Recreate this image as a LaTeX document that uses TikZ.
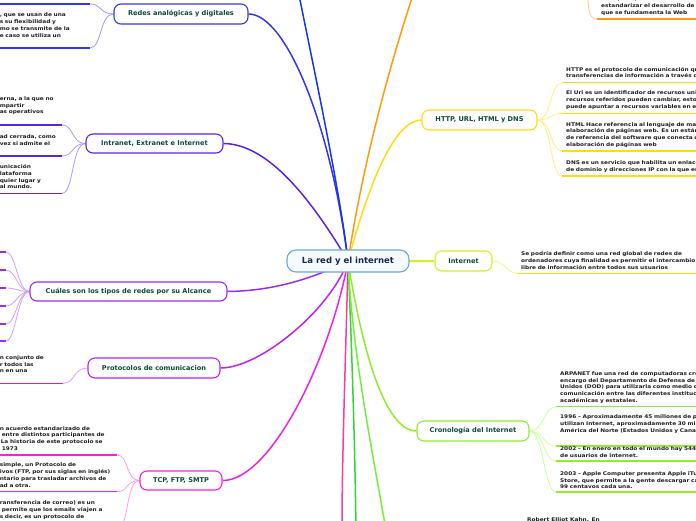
\documentclass[tikz,border=0pt]{standalone}
\usepackage{fontspec}
\setmainfont{DejaVu Sans}
\newfontfamily\leaffont{DejaVu Sans}[FakeStretch=1.16]
\usetikzlibrary{backgrounds}
\definecolor{titlegreen}{HTML}{0E4A3A}
\definecolor{rootink}{HTML}{1A2A4A}
\definecolor{rootline}{HTML}{6AA8DC}
\definecolor{rootfill}{HTML}{F5FAFF}
\definecolor{leafink}{HTML}{1E1E1E}
\definecolor{anaB}{HTML}{3535F0}
\definecolor{anaL}{HTML}{9A9AFF}
\definecolor{topB}{HTML}{1536EE}
\definecolor{intB}{HTML}{5A22F0}
\definecolor{intL}{HTML}{AE9CFF}
\definecolor{alcB}{HTML}{9A2CF0}
\definecolor{alcL}{HTML}{CFA0FF}
\definecolor{proB}{HTML}{BE22F0}
\definecolor{proL}{HTML}{DDA0FF}
\definecolor{tcpB}{HTML}{F022E0}
\definecolor{tcpL}{HTML}{FF9CF2}
\definecolor{pinkB}{HTML}{FF3AA0}
\definecolor{oraB}{HTML}{FF9A10}
\definecolor{oraL}{HTML}{FFCC88}
\definecolor{httB}{HTML}{FFDC10}
\definecolor{httL}{HTML}{FFEE80}
\definecolor{netB}{HTML}{D6EE22}
\definecolor{netL}{HTML}{E8F880}
\definecolor{croB}{HTML}{8EEE2A}
\definecolor{croL}{HTML}{CCFF99}
\definecolor{grnB}{HTML}{2ED82E}
\definecolor{limB}{HTML}{74F03A}
\newcommand{\gp}[1]{\rule[-#1]{0pt}{#1}}
\tikzset{
  topic/.style={draw=#1, line width=1.1pt, rounded corners=7pt, fill=white, text=titlegreen,
    font=\bfseries\fontsize{6.6}{8}\selectfont, minimum height=19pt, inner xsep=4pt},
  leaf/.style={text width=#1, align=left, inner xsep=4pt, inner ysep=1pt, text=leafink,
    font=\leaffont\bfseries\fontsize{5}{6.8}\selectfont},
  leafL/.style={leaf=#1, inner xsep=1pt},
  branch/.style={draw=#1, line width=1.5pt},
  twig/.style={draw=#1, line width=0.8pt},
  uline/.style={draw=#1, line width=1.5pt}
}
\begin{document}
\begin{tikzpicture}[x=1pt,y=-1pt]
\useasboundingbox (0,0) rectangle (696,520);
\clip (0,0) rectangle (696,520);

\node[draw=rootline, fill=rootfill, line width=1.1pt, rounded corners=9pt, text=rootink,
  font=\bfseries\fontsize{8.5}{10}\selectfont, minimum width=122pt, minimum height=22pt] (c) at (348,261) {La red y el internet};

\node[topic=anaB, minimum width=134pt, minimum height=20pt] (ra) at (181,14) {Redes analógicas y digitales};
\node[topic=intB, minimum width=137pt] (ie) at (154.5,143.5) {Intranet, Extranet e Internet};
\node[topic=alcB, minimum width=197pt] (ta) at (128.5,291.5) {Cuáles son los tipos de redes por su Alcance};
\node[topic=proB, minimum width=132pt, minimum height=20pt] (pc) at (154,368) {Protocolos de comunicacion};
\node[topic=tcpB, minimum width=82pt] (tcp) at (181,480.5) {TCP, FTP, SMTP};
\node[topic=httB, minimum width=115pt, minimum height=20pt] (http) at (479.5,120) {HTTP, URL, HTML y DNS};
\node[topic=netB, minimum width=57pt, minimum height=20pt] (inet) at (463.5,261) {Internet};
\node[topic=croB, minimum width=112pt, minimum height=20pt] (cr) at (473,431) {Cronología del Internet};

\coordinate (blu) at (298,-10);
\coordinate (orW) at (416,-14);
\coordinate (orE) at (588,-20);
\coordinate (pk) at (342,530);
\coordinate (gd) at (356,530);
\coordinate (lm) at (386,530);

\node[leafL=120pt, anchor=south east] (ra0) at (90,4) {};
\node[leafL=89pt, anchor=south east] (ra1) at (90,48) {, que se usan de una\\s su flexibilidad y\\mo se transmite de la\\e caso se utiliza un\gp{9.6pt}};

\node[leafL=61pt, anchor=south east] (ie1) at (62,125) {erna, a la que no\\mpartir\\as operativos\gp{10pt}};
\node[leafL=61pt, anchor=south east] (ie2) at (62,156) {ad cerrada, como\\vez si admite el\gp{9.6pt}};
\node[leafL=61pt, anchor=south east] (ie3) at (62,193.3) {unicación\\lataforma\\quier lugar y\\al mundo.\gp{3.3pt}};

\foreach \i/\y in {1/252,2/270,3/288,4/306,5/324,6/341}
  \node[leafL=20pt, anchor=south east] (ta\i) at (6,\y) {};

\node[leafL=62pt, anchor=south east] (pr1) at (63,383.3) {n conjunto de\\r todos las\\n en una\gp{9.3pt}};

\node[leafL=116pt, anchor=south east] (t1) at (117,455) {n acuerdo estandarizado de\\\hspace*{2pt}entre distintos participantes de\\\hspace*{1pt}La historia de este protocolo se\\\hspace*{2pt}1973\gp{3.3pt}};
\node[leafL=116pt, anchor=south east] (t2) at (117,491.7) {simple, un Protocolo de\\ivos (FTP, por sus siglas en inglés)\\ntario para trasladar archivos de\\ad a otra.\gp{3.3pt}};
\node[leafL=116pt, anchor=south east] (t3) at (117,530) {ransferencia de correo) es un\\\hspace*{2pt}permite que los emails viajen a\\s decir, es un protocolo de\gp{10.6pt}};

\node[leaf=130pt, anchor=south west] (or1) at (597,19) {Web (W3C) con sede en el MIT\\estandarizar el desarrollo de la\\que se fundamenta la Web\gp{3.6pt}};

\node[leaf=150pt, anchor=south west] (h1) at (562,82.7) {HTTP es el protocolo de comunicación que\\transferencias de información a través de\gp{3.7pt}};
\node[leaf=150pt, anchor=south west] (h2) at (562,113.3) {El Uri es un identificador de recursos unif\\recursos referidos pueden cambiar, esto e\\puede apuntar a recursos variables en el t\gp{3.9pt}};
\node[leaf=150pt, anchor=south west] (h3) at (562,151) {HTML Hace referencia al lenguaje de marc\\elaboración de páginas web. Es un estánd\\de referencia del software que conecta co\\elaboración de páginas web\gp{3.3pt}};
\node[leaf=150pt, anchor=south west] (h4) at (562,176) {DNS es un servicio que habilita un enlace\\de dominio y direcciones IP con la que est\gp{3.3pt}};

\node[leaf=175pt, anchor=south west] (in1) at (517,273.3) {Se podría definir como una red global de redes de\\ordenadores cuya finalidad es permitir el intercambio\\libre de información entre todos sus usuarios\gp{2.9pt}};

\node[leaf=150pt, anchor=south west] (a1) at (556,406.7) {ARPANET fue una red de computadoras crea\\encargo del Departamento de Defensa de lo\\Unidos (DOD) para utilizarla como medio de\\comunicación entre las diferentes institucio\\académicas y estatales.\gp{3pt}};
\node[leaf=150pt, anchor=south west] (a2) at (556,446) {1996 – Aproximadamente 45 millones de pe\\utilizan Internet, aproximadamente 30 millo\\América del Norte (Estados Unidos y Canad\gp{12.6pt}};
\node[leaf=150pt, anchor=south west] (a3) at (556,461) {2002 – En enero en todo el mundo hay 544,\\de usuarios de internet.\gp{2.8pt}};
\node[leaf=150pt, anchor=south west] (a4) at (556,492) {2003 – Apple Computer presenta Apple iTun\\Store, que permite a la gente descargar can\\99 centavos cada una.\gp{2pt}};

\node[text=leafink, font=\leaffont\bfseries\fontsize{5}{6.8}\selectfont, anchor=base west, inner sep=0pt] (rk) at (527,521.5) {Robert Elliot Kahn. En};

\begin{pgfonlayer}{background}
\draw[branch=anaB] (c.center) .. controls (330,120) and (285,14) .. (ra.east);
\draw[branch=topB] (c.center) .. controls (340,190) and (312,60) .. (blu);
\draw[branch=intB] (c.center) .. controls (300,180) and (260,144) .. (ie.east);
\draw[branch=oraB] (c.center) .. controls (365,150) and (396,45) .. (orW);
\draw[branch=httB] (c.center) .. controls (370,180) and (395,120) .. (http.west);
\draw[branch=netB] (c.center) -- (inet.west);
\draw[branch=alcB] (c.center) .. controls (300,285) and (260,291) .. (ta.east);
\draw[branch=proB] (c.center) .. controls (330,310) and (260,368) .. (pc.east);
\draw[branch=tcpB] (c.center) .. controls (330,360) and (270,481) .. (tcp.east);
\draw[branch=pinkB] (c.center) .. controls (346,350) and (342,450) .. (pk);
\draw[branch=grnB] (c.center) .. controls (352,350) and (355,450) .. (gd);
\draw[branch=limB] (c.center) .. controls (352,350) and (372,450) .. (lm);
\draw[branch=croB] (c.center) .. controls (362,350) and (385,431) .. (cr.west);

\foreach \n in {ra0,ra1} {
  \draw[twig=anaL] (ra.west) .. controls +(-14,0) and +(12,0) .. (\n.south east);
  \draw[uline=anaB] (\n.south west) -- (\n.south east);
}
\foreach \n in {ie1,ie2,ie3} {
  \draw[twig=intL] (ie.west) .. controls +(-14,0) and +(12,0) .. (\n.south east);
  \draw[uline=intB] (\n.south west) -- (\n.south east);
}
\foreach \n in {ta1,ta2,ta3,ta4,ta5,ta6} {
  \draw[twig=alcL] (ta.west) .. controls +(-12,0) and +(10,0) .. (\n.south east);
  \draw[uline=alcB] (\n.south west) -- (\n.south east);
}
\draw[twig=proL] (pc.west) .. controls +(-14,0) and +(12,0) .. (pr1.south east);
\draw[uline=proB] (pr1.south west) -- (pr1.south east);
\foreach \n in {t1,t2,t3} {
  \draw[twig=tcpL] (tcp.west) .. controls +(-14,0) and +(12,0) .. (\n.south east);
  \draw[uline=tcpB] (\n.south west) -- (\n.south east);
}
\draw[twig=oraL] (orE) .. controls +(0,25) and +(-10,0) .. (or1.south west);
\draw[uline=oraB] (or1.south west) -- (or1.south east);
\foreach \n in {h1,h2,h3,h4} {
  \draw[twig=httL] (http.east) .. controls +(14,0) and +(-12,0) .. (\n.south west);
  \draw[uline=httB] (\n.south west) -- (\n.south east);
}
\draw[twig=netL] (inet.east) .. controls +(12,0) and +(-10,0) .. (in1.south west);
\draw[uline=netB] (in1.south west) -- (in1.south east);
\foreach \n in {a1,a2,a3,a4} {
  \draw[twig=croL] (cr.east) .. controls +(14,0) and +(-12,0) .. (\n.south west);
  \draw[uline=croB] (\n.south west) -- (\n.south east);
}
\end{pgfonlayer}
\end{tikzpicture}
\end{document}
